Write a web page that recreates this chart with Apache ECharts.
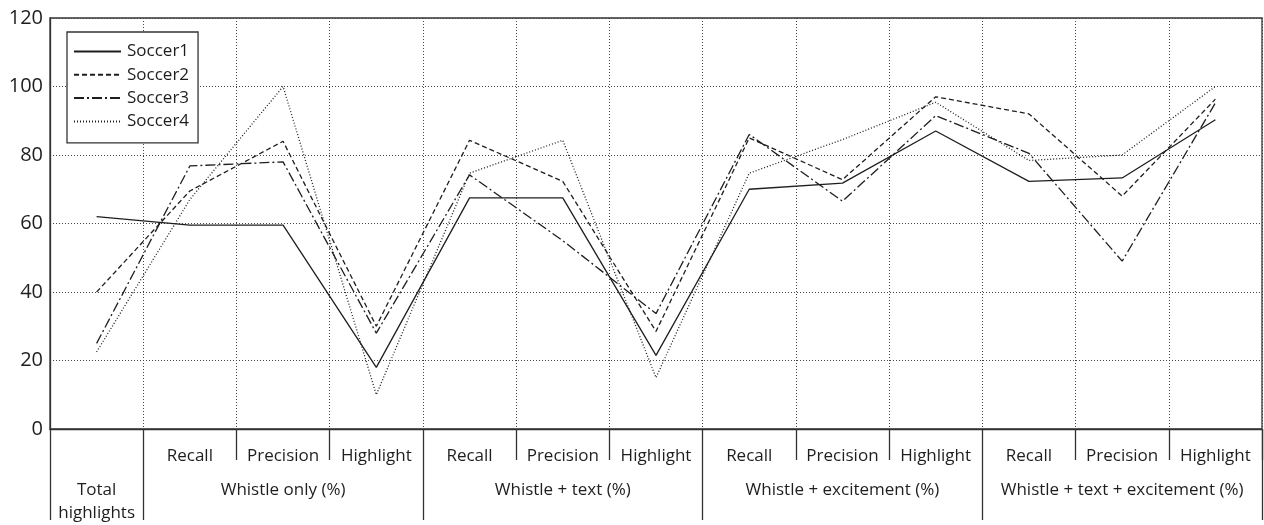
<!DOCTYPE html>
<html>
<head>
<meta charset="utf-8">
<script src="https://cdn.jsdelivr.net/npm/echarts@6/dist/echarts.min.js"></script>
<style>
html,body{margin:0;padding:0;background:#fff;}
#c{width:1264px;height:525px;}
</style>
</head>
<body>
<div id="c"></div>
<script>
const subLabels = ['', 'Recall', 'Precision', 'Highlight', 'Recall', 'Precision', 'Highlight', 'Recall', 'Precision', 'Highlight', 'Recall', 'Precision', 'Highlight'];
const groupLabels = ['Total\nhighlights', '', 'Whistle only (%)', '', '', 'Whistle + text (%)', '', '', 'Whistle + excitement (%)', '', '', 'Whistle + text + excitement (%)', ''];
const shortSeparators = [2, 3, 5, 6, 8, 9, 11, 12];
const longSeparators = [0, 1, 4, 7, 10];
const yTicks = [0, 20, 40, 60, 80, 100, 120];

const soccer1 = [62, 59.5, 59.5, 18, 67.5, 67.5, 21.5, 70, 71.8, 87, 72.3, 73.3, 90.3];
const soccer2 = [40, 69.5, 84, 30, 84.3, 72.3, 28.5, 85, 72.8, 97, 92, 68, 96.3];
const soccer3 = [25, 76.8, 78, 28, 74.2, 55, 33.7, 86, 66.5, 91.5, 80.5, 49, 95.2];
const soccer4 = [22.5, 67, 100, 10, 74.7, 84.3, 15, 74.7, 84.5, 95.4, 78.4, 80, 100];

const FONT = '"Open Sans", "Noto Sans", sans-serif';
const INK = '#1e1e1e';

const chart = echarts.init(document.getElementById('c'), null, {renderer: 'canvas'});

function mkSeries(name, data, dash) {
  return {
    name: name, type: 'line', data: data, symbol: 'none', xAxisIndex: 0,
    lineStyle: {color: INK, width: 1.3, type: dash},
    itemStyle: {color: INK},
    emphasis: {disabled: true},
    animation: false
  };
}

chart.setOption({
  animation: false,
  backgroundColor: '#fff',
  textStyle: {fontFamily: FONT, color: INK},
  grid: {left: 50, right: 2, top: 18, bottom: 91, show: true, borderColor: '#333', borderWidth: 1.3, backgroundColor: 'transparent'},
  legend: {
    orient: 'vertical', left: 67, top: 32,
    itemWidth: 47, itemHeight: 14, itemGap: 5.3,
    padding: [10.5, 9, 12.5, 6],
    borderColor: '#333', borderWidth: 1.3, backgroundColor: '#fff',
    itemStyle: {color: 'transparent', borderColor: 'transparent', borderWidth: 0, opacity: 0},
    textStyle: {fontFamily: FONT, fontSize: 17, lineHeight: 18, color: INK, padding: [0, 0, 0, 1]},
    data: ['Soccer1', 'Soccer2', 'Soccer3', 'Soccer4']
  },
  xAxis: [
    {
      type: 'category', data: subLabels, boundaryGap: true, position: 'bottom',
      axisLine: {show: true, lineStyle: {color: '#333', width: 1.3}},
      axisTick: {show: true, length: 31, interval: function (i) { return shortSeparators.indexOf(i) >= 0; }, lineStyle: {color: '#333', width: 1.3}},
      axisLabel: {interval: 0, fontFamily: FONT, fontSize: 17, color: INK, margin: 18.5},
      splitLine: {show: true, interval: 0, lineStyle: {color: '#444', width: 1, type: [1, 2]}}
    },
    {
      type: 'category', data: groupLabels, boundaryGap: true, position: 'bottom',
      axisLine: {show: false},
      axisTick: {show: true, length: 91, interval: function (i) { return longSeparators.indexOf(i) >= 0; }, lineStyle: {color: '#333', width: 1.3}},
      axisLabel: {interval: 0, fontFamily: FONT, fontSize: 17, color: INK, margin: 50, lineHeight: 23},
      splitLine: {show: false}
    }
  ],
  yAxis: {
    type: 'value', min: yTicks[0], max: yTicks[yTicks.length - 1], interval: 20,
    axisLine: {show: true, lineStyle: {color: '#333', width: 1.3}},
    axisTick: {show: false},
    axisLabel: {fontFamily: FONT, fontSize: 20, color: INK, margin: 7},
    splitLine: {show: true, lineStyle: {color: '#444', width: 1, type: [1, 2]}}
  },
  series: [
    mkSeries('Soccer1', soccer1, 'solid'),
    mkSeries('Soccer2', soccer2, [5, 3]),
    mkSeries('Soccer3', soccer3, [10, 3, 2, 3]),
    mkSeries('Soccer4', soccer4, [1, 2])
  ]
});
</script>
</body>
</html>
